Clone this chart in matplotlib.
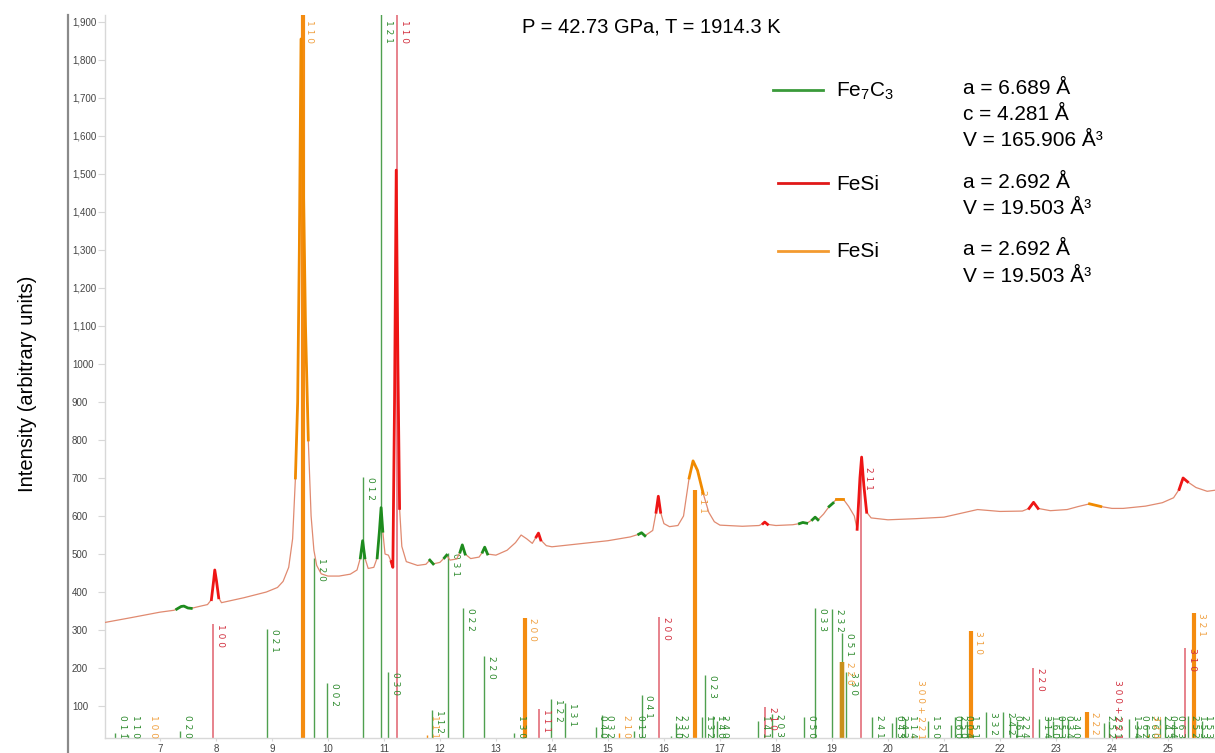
import matplotlib
matplotlib.use("Agg")
import matplotlib.pyplot as plt
from matplotlib.lines import Line2D
import numpy as np

plt.rcParams['font.family'] = ['Liberation Sans', 'DejaVu Sans']
plt.rcParams['mathtext.default'] = 'regular'

prof_x = [6.02, 6.5, 7.0, 7.25, 7.3, 7.38, 7.43, 7.5, 7.56, 7.7, 7.85, 7.92, 7.96, 7.98, 8.01,
          8.05, 8.1, 8.5, 8.9, 9.1, 9.2, 9.3, 9.37, 9.42, 9.46, 9.49, 9.52, 9.56, 9.6, 9.65,
          9.7, 9.75, 9.8, 9.88, 10.0, 10.2, 10.4, 10.52, 10.58, 10.62, 10.66, 10.72, 10.82, 10.88,
          10.92, 10.95, 10.98, 11.02, 11.08, 11.13, 11.16, 11.19, 11.22, 11.25, 11.28, 11.32, 11.4,
          11.6, 11.75, 11.82, 11.88, 12.0, 12.08, 12.12, 12.18, 12.3, 12.36, 12.4, 12.45, 12.55,
          12.7, 12.76, 12.8, 12.85, 13.0, 13.2, 13.35, 13.45, 13.55, 13.65, 13.72, 13.76, 13.8,
          13.9, 14.0, 14.5, 15.0, 15.4, 15.55, 15.6, 15.66, 15.8, 15.86, 15.9, 15.94, 16.0, 16.1,
          16.25, 16.35, 16.45, 16.52, 16.6, 16.7, 16.8, 16.9, 17.0, 17.4, 17.7, 17.77, 17.8,
          17.85, 18.0, 18.3, 18.42, 18.48, 18.55, 18.65, 18.7, 18.75, 18.85, 18.95, 19.02, 19.08,
          19.2, 19.3, 19.4, 19.45, 19.5, 19.53, 19.57, 19.62, 19.7, 20.0, 20.5, 21.0, 21.3, 21.6,
          22.0, 22.4, 22.52, 22.6, 22.68, 22.9, 23.2, 23.4, 23.6, 23.8, 24.0, 24.2, 24.6, 24.9,
          25.1, 25.2, 25.27, 25.35, 25.5, 25.7, 25.85]
prof_y = [320, 333, 347, 352, 355, 362, 363, 358, 357, 362, 367, 380, 430, 458, 430,
          385, 372, 385, 400, 412, 428, 465, 540, 700, 900, 1300, 1855, 1500, 1100, 800,
          600, 510, 470, 448, 442, 442, 447, 458, 490, 535, 490, 462, 465, 490,
          560, 622, 560, 500, 497, 480, 465, 900, 1510, 1000, 620, 520, 480,
          470, 473, 484, 474, 478, 490, 497, 484, 487, 505, 524, 500, 488,
          492, 505, 518, 500, 497, 510, 530, 550, 540, 528, 545, 555, 537,
          522, 519, 527, 535, 545, 552, 556, 548, 562, 610, 652, 610, 580, 572,
          575, 600, 700, 745, 720, 660, 610, 585, 576, 573, 575, 580, 584,
          578, 575, 577, 580, 583, 581, 590, 597, 590, 605, 625, 634, 645,
          645, 625, 600, 565, 700, 755, 680, 610, 595, 590, 593, 597, 607, 617,
          612, 613, 620, 636, 620, 614, 617, 625, 632, 625, 620, 620, 626, 635,
          648, 670, 700, 690, 675, 665, 668]

# fitted peak regions per phase (phase, from, to)
fit_phase = ['Fe7C3', 'FeSi_r', 'FeSi_o', 'Fe7C3', 'Fe7C3', 'FeSi_r', 'Fe7C3', 'Fe7C3', 'Fe7C3',
             'Fe7C3', 'FeSi_r', 'Fe7C3', 'FeSi_r', 'FeSi_o', 'FeSi_r', 'Fe7C3', 'Fe7C3', 'Fe7C3',
             'FeSi_o', 'FeSi_r', 'FeSi_r', 'FeSi_o', 'FeSi_r', 'FeSi_r']
fit_from = [7.28, 7.9, 9.4, 10.55, 10.86, 11.13, 11.77, 12.06, 12.34, 12.74, 13.7, 15.54, 15.84,
            16.42, 17.75, 18.41, 18.64, 18.9, 19.04, 19.43, 22.5, 23.42, 23.95, 25.18]
fit_to = [7.57, 8.09, 9.66, 10.69, 11.01, 11.3, 11.89, 12.17, 12.46, 12.86, 13.82, 15.67, 15.96,
          16.72, 17.86, 18.56, 18.76, 19.04, 19.25, 19.62, 22.7, 23.82, 24.12, 25.36]

# reflection markers: position, intensity, hkl
fe7c3_pos = [6.20, 6.43, 7.36, 8.92, 9.75, 9.98, 10.63, 10.95, 11.07, 11.86, 12.14, 12.41, 12.79,
             13.32, 13.98, 14.23, 14.78, 14.90, 15.46, 15.60, 16.12, 16.22, 16.68, 16.73, 16.88,
             16.95, 17.68, 17.93, 18.50, 18.70, 19.00, 19.18, 19.26, 19.72, 20.08, 20.15, 20.30,
             20.72, 21.12, 21.20, 21.30, 21.42, 21.75, 22.05, 22.18, 22.30, 22.70, 22.85, 22.95,
             23.10, 23.22, 23.85, 23.95, 24.30, 24.45, 24.62, 24.85, 24.95, 25.10, 25.35, 25.48, 25.60]
fe7c3_int = [30, 25, 35, 302, 490, 160, 703, 2100, 190, 90, 502, 357, 232,
             30, 118, 108, 45, 76, 35, 129, 20, 55, 70, 182, 75,
             60, 60, 80, 70, 358, 355, 292, 190, 70, 55, 70, 65,
             60, 50, 70, 65, 60, 84, 85, 70, 60, 65, 70, 60,
             70, 65, 55, 60, 65, 60, 50, 65, 70, 60, 75, 70, 60]
fe7c3_hkl = ['0 1 1', '1 1 0', '0 2 0', '0 2 1', '1 2 0', '0 0 2', '0 1 2', '1 2 1', '0 3 0',
             '1 1 2', '0 3 1', '0 2 2', '2 2 0', '1 3 0', '1 2 2', '1 3 1', '0 4 0', '0 3 2',
             '0 1 3', '0 4 1', '2 3 0', '2 3 2', '1 3 2', '0 2 3', '1 4 0', '2 4 0', '1 4 1',
             '2 0 3', '0 5 0', '0 3 3', '2 3 2', '0 5 1', '3 3 0', '2 4 1', '0 4 3', '2 4 2',
             '1 1 4', '1 5 0', '0 6 0', '2 5 0', '0 0 4', '1 5 1', '3 3 2', '2 4 2', '0 6 1',
             '2 2 4', '3 1 4', '1 6 0', '0 5 3', '0 3 4', '3 4 0', '2 5 2', '2 5 1', '1 3 4',
             '0 6 2', '2 6 0', '2 4 3', '0 4 4', '0 6 3', '2 5 2', '1 5 3', '1 5 3']

fesi_r_pos = [7.95, 11.23, 13.77, 15.91, 17.80, 19.52, 22.59, 23.97, 25.30]
fesi_r_int = [316, 2100, 93, 335, 98, 730, 199, 25, 253]
fesi_r_hkl = ['1 0 0', '1 1 0', '1 1 1', '2 0 0', '2 1 0', '2 1 1', '2 2 0', '3 0 0 + 2 2 1', '3 1 0']

fesi_o_pos = [6.75, 9.55, 11.77, 13.52, 15.20, 16.55, 19.18, 20.45, 21.48, 23.55, 24.64, 25.47]
fesi_o_int = [15, 2100, 25, 331, 30, 668, 216, 20, 297, 85, 25, 344]
fesi_o_hkl = ['1 0 0', '1 1 0', '1 1 1', '2 0 0', '2 1 0', '2 1 1', '2 2 0', '3 0 0 + 2 2 1',
              '3 1 0', '2 2 2', '3 2 0', '3 2 1']

yticks = [100, 200, 300, 400, 500, 600, 700, 800, 900, 1000, 1100, 1200, 1300, 1400, 1500,
          1600, 1700, 1800, 1900]
ytick_labels = ['100', '200', '300', '400', '500', '600', '700', '800', '900', '1000', '1,100',
                '1,200', '1,300', '1,400', '1,500', '1,600', '1,700', '1,800', '1,900']
xticks = list(range(7, 26))

peak_col = {'Fe7C3': '#1e8c1e', 'FeSi_r': '#ee1515', 'FeSi_o': '#f08a00'}

W, H = 1215, 753
fig = plt.figure(figsize=(W / 100, H / 100), dpi=100)
ax = fig.add_axes([105 / W, 15 / H, 1 - 105 / W, (738 - 15) / H])
ax.set_xlim(6.02, 25.84)
ax.set_ylim(16, 1918)

px = np.array(prof_x)
py = np.array(prof_y)

# reflection markers
def markers(pos, inten, hkl, lcol, tcol, lws):
    for p, h, lab, lw in zip(pos, inten, hkl, lws):
        ax.plot([p, p], [0, h], color=lcol, lw=lw, zorder=2, solid_capstyle='butt')
        ytop = max(min(h, 1905), 20 + len(lab) * 11.5)
        ax.annotate(lab, (p, ytop), xytext=(2, 0), textcoords='offset points',
                    rotation=-90, ha='left', va='top', fontsize=6.5, color=tcol,
                    family='DejaVu Sans', zorder=3)

markers(fe7c3_pos, fe7c3_int, fe7c3_hkl, '#4fa04f', '#2e8b2e', [1.0] * len(fe7c3_pos))
markers(fesi_r_pos, fesi_r_int, fesi_r_hkl, '#e0606e', '#d2303f', [1.1] * len(fesi_r_pos))
o_lw = [1.0 if h < 60 else 3.0 for h in fesi_o_int]
markers(fesi_o_pos, fesi_o_int, fesi_o_hkl, '#f48c10', '#f0a040', o_lw)
# the 220 bar where green and orange overlap looks darker
ax.plot([fesi_o_pos[6]] * 2, [0, fesi_o_int[6]], color='#c8901c', lw=3.2, zorder=2,
        solid_capstyle='butt')

# profile and fitted peaks
ax.plot(px, py, color='#e08a70', lw=0.9, zorder=4)
for ph, a, b in zip(fit_phase, fit_from, fit_to):
    m = (px >= a) & (px <= b)
    ax.plot(px[m], py[m], color=peak_col[ph], lw=2.0, zorder=5)

ax.set_yticks(yticks)
ax.set_yticklabels(ytick_labels)
ax.set_xticks(xticks)
ax.tick_params(axis='y', length=5, color='#d8d8d8', labelsize=7, labelcolor='#444444', pad=18.8)
for t in ax.get_yticklabels():
    t.set_horizontalalignment('left')
ax.tick_params(axis='x', length=2, color='#d8d8d8', labelsize=7, labelcolor='#444444', pad=2)
for s in ['top', 'right']:
    ax.spines[s].set_visible(False)
for s in ['left', 'bottom']:
    ax.spines[s].set_color('#d8d8d8')
    ax.spines[s].set_linewidth(1.0)

fig.add_artist(Line2D([68 / W, 68 / W], [0, 1 - 15 / H], transform=fig.transFigure,
                      color='#8a8a8a', lw=1.6))

fig.text(651 / W, 1 - 27 / H, 'P = 42.73 GPa, T = 1914.3 K', ha='center', va='center',
         fontsize=14.5)
fig.text(28 / W, 1 - 384 / H, 'Intensity (arbitrary units)', rotation=90, ha='center',
         va='center', fontsize=14.5)

# legend with cell parameters
leg_rows = [
    ('#3a9a3a', 773, 90, 'Fe$_7$C$_3$', ['a = 6.689 Å', 'c = 4.281 Å', 'V = 165.906 Å³']),
    ('#e01818', 778, 183, 'FeSi', ['a = 2.692 Å', 'V = 19.503 Å³']),
    ('#f39a30', 778, 251, 'FeSi', ['a = 2.692 Å', 'V = 19.503 Å³']),
]
for col, x0, yy, name, params in leg_rows:
    fig.add_artist(Line2D([x0 / W, (x0 + 50) / W], [1 - yy / H] * 2, transform=fig.transFigure,
                          color=col, lw=2))
    fig.text(836 / W, 1 - (yy + 1) / H, name, ha='left', va='center', fontsize=15)
    for i, t in enumerate(params):
        fig.text(963 / W, 1 - (yy - 1 + 26 * i) / H, t, ha='left', va='center', fontsize=15)

fig.savefig('out.png', dpi=100)
